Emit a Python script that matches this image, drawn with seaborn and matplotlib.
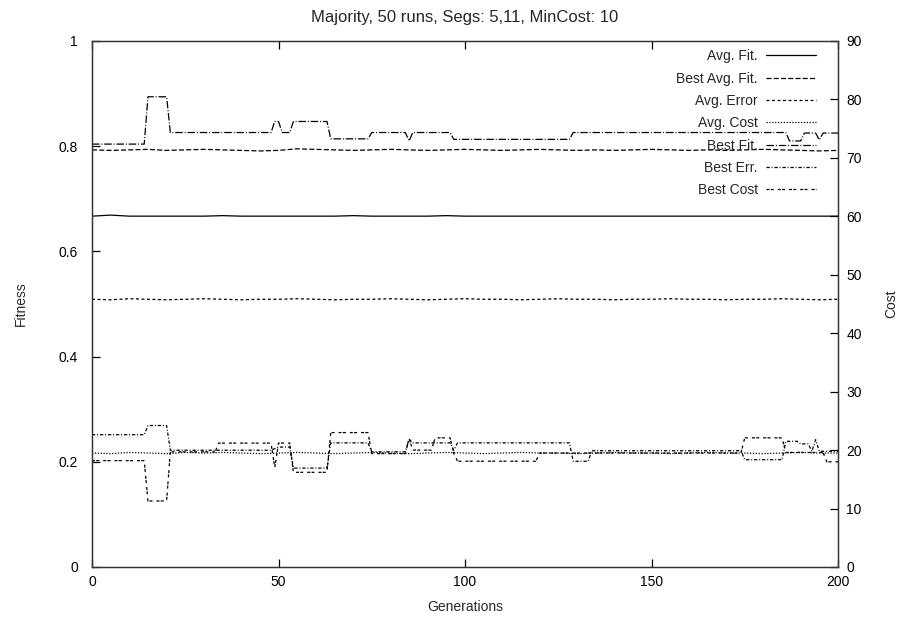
import matplotlib
matplotlib.use("Agg")
import matplotlib.pyplot as plt
import seaborn as sns
import pandas as pd

title = "Majority, 50 runs, Segs: 5,11, MinCost: 10"

# ---- smooth series, sampled every 5 generations ----
gens_5 = [0, 5, 10, 15, 20, 25, 30, 35, 40, 45, 50, 55, 60, 65, 70, 75, 80, 85, 90, 95,
          100, 105, 110, 115, 120, 125, 130, 135, 140, 145, 150, 155, 160, 165, 170, 175,
          180, 185, 190, 195, 200]
avg_fit = [0.667, 0.669, 0.667, 0.667, 0.667, 0.667, 0.667, 0.668, 0.667, 0.667,
           0.667, 0.667, 0.667, 0.667, 0.668, 0.667, 0.667, 0.667, 0.667, 0.668,
           0.667, 0.667, 0.667, 0.667, 0.667, 0.667, 0.667, 0.667, 0.667, 0.667,
           0.667, 0.667, 0.667, 0.667, 0.667, 0.667, 0.667, 0.667, 0.667, 0.667, 0.667]
best_avg_fit = [0.793, 0.792, 0.793, 0.794, 0.792, 0.793, 0.794, 0.793, 0.792, 0.791,
                0.792, 0.795, 0.794, 0.793, 0.792, 0.793, 0.794, 0.793, 0.792, 0.793,
                0.794, 0.793, 0.792, 0.793, 0.794, 0.793, 0.792, 0.793, 0.792, 0.793,
                0.794, 0.793, 0.792, 0.793, 0.792, 0.793, 0.794, 0.793, 0.792, 0.791, 0.792]
avg_error = [0.509, 0.508, 0.510, 0.509, 0.508, 0.509, 0.510, 0.509, 0.508, 0.509,
             0.509, 0.510, 0.509, 0.508, 0.509, 0.509, 0.510, 0.509, 0.508, 0.509,
             0.510, 0.509, 0.509, 0.508, 0.509, 0.510, 0.509, 0.509, 0.508, 0.509,
             0.509, 0.510, 0.509, 0.509, 0.508, 0.509, 0.509, 0.510, 0.509, 0.508, 0.509]
avg_cost = [19.5, 19.4, 19.6, 19.5, 19.4, 19.6, 19.5, 19.6, 19.5, 19.4,
            19.5, 19.6, 19.5, 19.4, 19.5, 19.6, 19.5, 19.4, 19.5, 19.6,
            19.5, 19.4, 19.5, 19.6, 19.5, 19.5, 19.4, 19.5, 19.6, 19.5,
            19.5, 19.4, 19.5, 19.6, 19.5, 19.5, 19.4, 19.5, 19.6, 19.5, 19.5]

# ---- step series: vertices ----
best_fit_gen = [0, 14, 15, 20, 21, 48, 49, 50, 51, 53, 54, 63, 64, 74, 75, 84, 85, 86,
                96, 97, 128, 129, 186, 187, 190, 191, 194, 195, 196, 200]
best_fit = [0.804, 0.804, 0.894, 0.894, 0.826, 0.826, 0.847, 0.847, 0.826, 0.826,
            0.847, 0.847, 0.814, 0.814, 0.826, 0.826, 0.810, 0.826, 0.826, 0.813,
            0.813, 0.826, 0.826, 0.810, 0.810, 0.825, 0.825, 0.812, 0.825, 0.825]

best_err_gen = [0, 14, 15, 20, 21, 48, 50, 53, 54, 63, 64, 74, 75, 84, 85, 86, 96, 97,
                98, 128, 129, 133, 134, 174, 175, 185, 186, 189, 190, 192, 193, 194,
                195, 200]
best_err = [0.2515, 0.2515, 0.269, 0.269, 0.222, 0.222, 0.228, 0.228, 0.188, 0.188,
            0.236, 0.236, 0.219, 0.219, 0.243, 0.236, 0.236, 0.222, 0.236, 0.236,
            0.201, 0.201, 0.221, 0.221, 0.204, 0.204, 0.239, 0.239, 0.234, 0.234,
            0.220, 0.242, 0.220, 0.220]

best_cost_gen = [0, 14, 15, 20, 21, 33, 34, 48, 49, 50, 53, 54, 63, 64, 74, 75, 84, 85,
                 86, 91, 92, 96, 97, 98, 119, 120, 174, 175, 185, 186, 196, 197, 200]
best_cost = [18.2, 18.2, 11.3, 11.3, 19.7, 19.7, 21.2, 21.2, 17.0, 21.2, 21.2, 16.2,
             16.2, 23.0, 23.0, 19.4, 19.4, 22.0, 20.0, 20.0, 22.1, 22.1, 19.4, 18.1,
             18.1, 19.5, 19.5, 22.1, 22.1, 19.6, 19.6, 18.0, 18.0]

labels = ["Avg. Fit.", "Best Avg. Fit.", "Avg. Error", "Avg. Cost",
          "Best Fit.", "Best Err.", "Best Cost"]
y_ticks = [0, 0.2, 0.4, 0.6, 0.8, 1]
y_ticklabels = ["0", "0.2", "0.4", "0.6", "0.8", "1"]
y2_ticks = [0, 10, 20, 30, 40, 50, 60, 70, 80, 90]
x_ticks = [0, 50, 100, 150, 200]

sns.set_style("white")
plt.rcParams["font.family"] = ["Liberation Sans", "DejaVu Sans"]
plt.rcParams["font.size"] = 10

fig = plt.figure(figsize=(8.97, 6.23), dpi=100)
ax = fig.add_axes([92 / 897, 56 / 623, 746 / 897, 526 / 623])
ax2 = ax.twinx()

LW = 0.9
styles = {
    "Avg. Fit.": "-",
    "Best Avg. Fit.": (0, (4.0, 1.8)),
    "Avg. Error": (0, (2.4, 2.0)),
    "Avg. Cost": (0, (1.0, 1.3)),
    "Best Fit.": (0, (6.0, 1.5, 0.8, 1.5)),
    "Best Err.": (0, (2.6, 1.5, 0.8, 1.5)),
    "Best Cost": (0, (2.4, 1.0, 2.4, 3.2)),
}

def draw(target, x, y, name):
    df = pd.DataFrame({"gen": x, "val": y})
    sns.lineplot(data=df, x="gen", y="val", ax=target, color="black", lw=LW,
                 linestyle=styles[name], estimator=None, sort=False, legend=False)
    return target.lines[-1]

handles = []
handles.append(draw(ax, gens_5, avg_fit, "Avg. Fit."))
handles.append(draw(ax, gens_5, best_avg_fit, "Best Avg. Fit."))
handles.append(draw(ax, gens_5, avg_error, "Avg. Error"))
handles.append(draw(ax2, gens_5, avg_cost, "Avg. Cost"))
handles.append(draw(ax, best_fit_gen, best_fit, "Best Fit."))
handles.append(draw(ax, best_err_gen, best_err, "Best Err."))
handles.append(draw(ax2, best_cost_gen, best_cost, "Best Cost"))

ax.set_xlim(0, 200)
ax.set_ylim(0, 1)
ax2.set_ylim(0, 90)
ax.set_xticks(x_ticks)
ax.set_xticklabels([str(t) for t in x_ticks])
ax.set_yticks(y_ticks)
ax.set_yticklabels(y_ticklabels)
ax2.set_yticks(y2_ticks)
ax2.set_yticklabels([str(t) for t in y2_ticks])

ax.tick_params(axis="x", direction="in", length=6, width=0.9, pad=6,
               top=True, bottom=True, colors="black")
ax.tick_params(axis="y", direction="in", length=6, width=0.9, pad=10,
               left=True, right=False, colors="black")
ax2.tick_params(axis="y", direction="in", length=6, width=0.9, pad=6,
                right=True, left=False, colors="black")

for a in (ax, ax2):
    for s in a.spines.values():
        s.set_color("#333333")
        s.set_linewidth(0.9)

ax.set_xlabel("Generations", labelpad=8)
ax.set_ylabel("Fitness", labelpad=22)
ax2.set_ylabel("Cost", labelpad=16)
ax.set_title(title, pad=14)

leg = ax2.legend(handles, labels, loc="upper right", bbox_to_anchor=(0.978, 0.995),
                 frameon=False, markerfirst=False, handlelength=3.6,
                 labelspacing=0.6, handletextpad=0.6, borderaxespad=0)

fig.savefig("out.png", dpi=100)
